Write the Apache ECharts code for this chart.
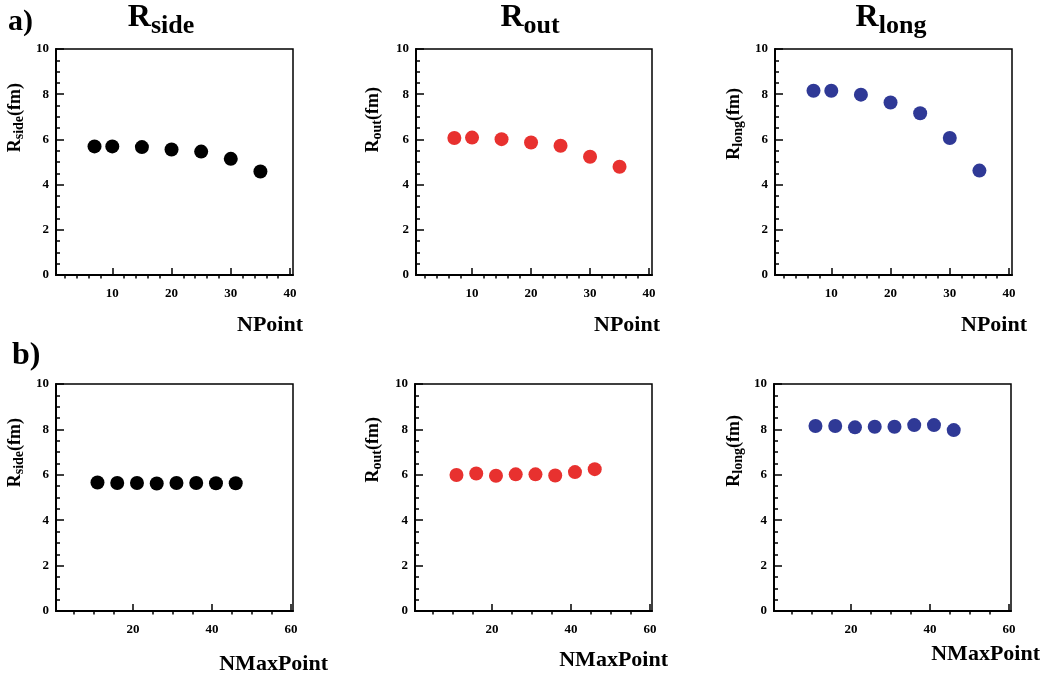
<!DOCTYPE html>
<html><head><meta charset="utf-8">
<script src="https://cdn.jsdelivr.net/npm/echarts@6/dist/echarts.min.js"></script>
<style>html,body{margin:0;padding:0;background:#fff}#c{width:1042px;height:679px}</style>
</head><body><div id="c"></div>
<script>
// ---- data ----
const nPoint = [7, 10, 15, 20, 25, 30, 35];
const nMaxPoint = [11, 16, 21, 26, 31, 36, 41, 46];
const rSideA = [5.69, 5.69, 5.66, 5.55, 5.46, 5.14, 4.58];
const rOutA  = [6.06, 6.08, 6.01, 5.86, 5.72, 5.23, 4.79];
const rLongA = [8.15, 8.15, 7.98, 7.63, 7.16, 6.06, 4.62];
const rSideB = [5.66, 5.64, 5.64, 5.62, 5.64, 5.64, 5.63, 5.63];
const rOutB  = [5.99, 6.06, 5.96, 6.02, 6.02, 5.97, 6.12, 6.25];
const rLongB = [8.15, 8.15, 8.09, 8.12, 8.12, 8.19, 8.19, 7.97];
const xTicksA = [10, 20, 30, 40];
const xMinorA = [2, 4, 6, 8, 12, 14, 16, 18, 22, 24, 26, 28, 32, 34, 36, 38];
const xTicksB = [20, 40, 60];
const xMinorB = [5, 10, 15, 25, 30, 35, 45, 50, 55];
const yTicks = [0, 2, 4, 6, 8, 10];
const xRangeA = [0.5, 40.5];
const xRangeB = [0.5, 60.5];
const yRange = [0, 10];
const colTitles = ['side', 'out', 'long'];
const xNameA = 'NPoint';
const xNameB = 'NMaxPoint';

// ---- layout ----
const FONT = '"Liberation Serif", "DejaVu Serif", serif';
const colors = ['#000000', '#e8312f', '#2f3996'];
const panels = [
  {l: 56,  t: 49,  w: 237, h: 226, x: nPoint, y: rSideA, xr: xRangeA, maj: xTicksA, min: xMinorA, c: 0},
  {l: 416, t: 49,  w: 236, h: 226, x: nPoint, y: rOutA,  xr: xRangeA, maj: xTicksA, min: xMinorA, c: 1},
  {l: 775, t: 49,  w: 237, h: 226, x: nPoint, y: rLongA, xr: xRangeA, maj: xTicksA, min: xMinorA, c: 2},
  {l: 56,  t: 384, w: 237, h: 227, x: nMaxPoint, y: rSideB, xr: xRangeB, maj: xTicksB, min: xMinorB, c: 0},
  {l: 415, t: 384, w: 237, h: 227, x: nMaxPoint, y: rOutB,  xr: xRangeB, maj: xTicksB, min: xMinorB, c: 1},
  {l: 774, t: 384, w: 237, h: 227, x: nMaxPoint, y: rLongB, xr: xRangeB, maj: xTicksB, min: xMinorB, c: 2}
];

const grid = [], xAxis = [], yAxis = [], series = [];
const labelStyle = {color: '#000', fontFamily: FONT, fontWeight: 'bold', fontSize: 13};
panels.forEach((p, i) => {
  grid.push({left: p.l, top: p.t, width: p.w, height: p.h, show: true,
    borderColor: '#000', borderWidth: 1.5, backgroundColor: 'transparent'});
  xAxis.push({type: 'value', gridIndex: i, min: p.xr[0], max: p.xr[1],
    axisLine: {show: true, onZero: false, lineStyle: {color: '#000', width: 2}},
    axisTick: {show: true, inside: true, length: 7, customValues: p.maj, lineStyle: {color: '#000', width: 1.5}},
    axisLabel: Object.assign({show: true, margin: 12, customValues: p.maj}, labelStyle),
    splitLine: {show: false}});
  xAxis.push({type: 'value', gridIndex: i, min: p.xr[0], max: p.xr[1],
    axisLine: {show: false},
    axisTick: {show: true, inside: true, length: 3.5, customValues: p.min, lineStyle: {color: '#000', width: 1.5}},
    axisLabel: {show: false}, splitLine: {show: false}});
  yAxis.push({type: 'value', gridIndex: i, min: yRange[0], max: yRange[1], interval: 2,
    axisLine: {show: true, onZero: false, lineStyle: {color: '#000', width: 2}},
    axisTick: {show: true, inside: true, length: 8, lineStyle: {color: '#000', width: 1.5}},
    minorTick: {show: true, splitNumber: 4, length: 4, lineStyle: {color: '#000', width: 1.5}},
    axisLabel: Object.assign({show: true, margin: 7, customValues: yTicks}, labelStyle),
    splitLine: {show: false}});
  series.push({type: 'scatter', xAxisIndex: 2 * i, yAxisIndex: i,
    data: p.x.map((v, k) => [v, p.y[k]]),
    symbol: 'circle', symbolSize: 14, itemStyle: {color: colors[p.c], opacity: 1},
    emphasis: {disabled: true}});
});

// ---- texts ----
const ctx = document.createElement('canvas').getContext('2d');
function tw(s, fs) { ctx.font = 'bold ' + fs + 'px ' + FONT; return ctx.measureText(s).width; }
function txt(x, y, s, fs) {
  return {type: 'text', x: x, y: y, style: {text: s, font: 'bold ' + fs + 'px ' + FONT, fill: '#000', align: 'left', verticalAlign: 'middle'}};
}
// text with subscript: parts = [main, sub, tail]; anchor 'center' or 'right'
function subText(x, y, rot, main, sub, tail, fm, fsub, drop, anchor) {
  const w1 = tw(main, fm), w2 = tw(sub, fsub), w3 = tail ? tw(tail, fm) : 0;
  const W = w1 + w2 + w3;
  let x0 = anchor === 'center' ? -W / 2 : -W;
  const ch = [txt(x0, 0, main, fm), txt(x0 + w1, drop, sub, fsub)];
  if (tail) ch.push(txt(x0 + w1 + w2, 0, tail, fm));
  return {type: 'group', x: x, y: y, rotation: rot, children: ch};
}
const graphic = [];
graphic.push({type: 'text', x: 8, y: 22, style: {text: 'a)', font: 'bold 30px ' + FONT, fill: '#000', align: 'left', verticalAlign: 'middle'}});
graphic.push({type: 'text', x: 12, y: 356, style: {text: 'b)', font: 'bold 32px ' + FONT, fill: '#000', align: 'left', verticalAlign: 'middle'}});
// column titles
const titleX = [161, 530, 891];
colTitles.forEach((s, i) => {
  graphic.push(subText(titleX[i], 18, 0, 'R', s, '', 32, 26, 8, 'center'));
});
// y-axis titles
const yTitlePos = [[15, 83], [373, 87], [734, 88], [15, 418], [373, 417], [734, 415]];
panels.forEach((p, i) => {
  graphic.push(subText(yTitlePos[i][0], yTitlePos[i][1], Math.PI / 2, 'R', colTitles[p.c], '(fm)', 18, 14, 4, 'right'));
});
// x-axis titles
const xTitlePos = [[303, 325], [660, 325], [1027, 325], [328, 664], [668, 660], [1040, 654]];
panels.forEach((p, i) => {
  graphic.push({type: 'text', x: xTitlePos[i][0], y: xTitlePos[i][1], style: {
    text: i < 3 ? xNameA : xNameB, font: 'bold 22px ' + FONT, fill: '#000', align: 'right', verticalAlign: 'middle'}});
});

const chart = echarts.init(document.getElementById('c'), null, {renderer: 'canvas'});
chart.setOption({animation: false, backgroundColor: '#fff', grid, xAxis, yAxis, series, graphic});
</script></body></html>
